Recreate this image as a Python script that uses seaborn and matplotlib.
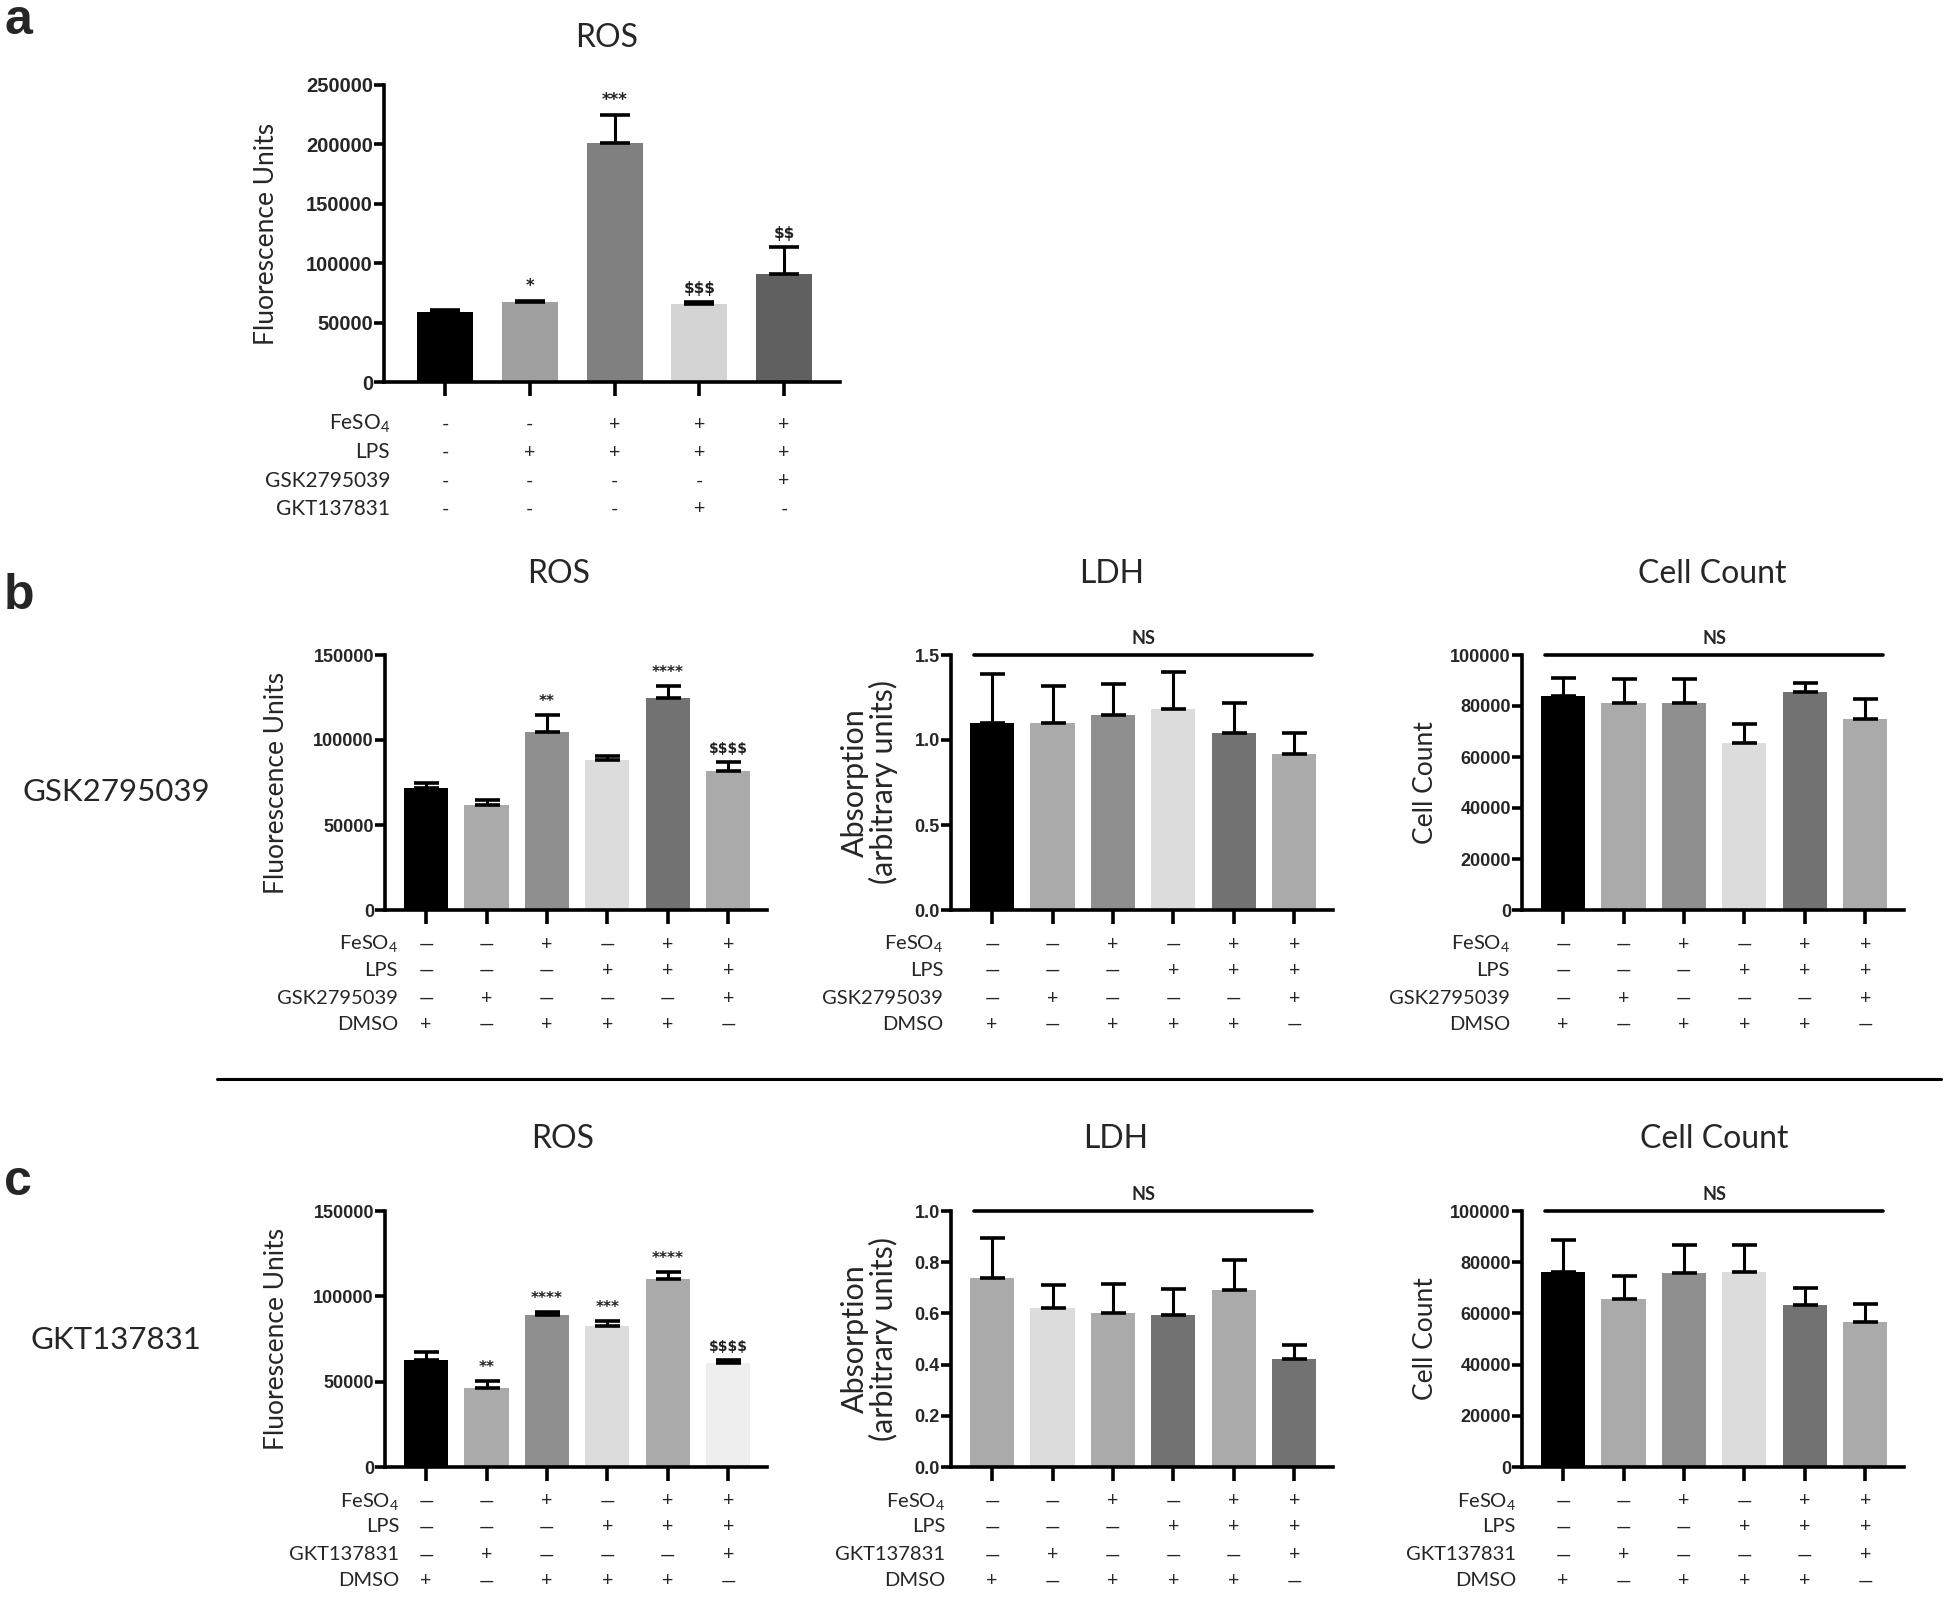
import numpy as np
import pandas as pd
import matplotlib
matplotlib.use("Agg")
import matplotlib.pyplot as plt
import matplotlib.transforms as mtrans
from matplotlib.lines import Line2D
import seaborn as sns

sns.set_theme(style="ticks")
plt.rcParams["font.family"] = ["Lato", "DejaVu Sans"]
plt.rcParams["mathtext.fontset"] = "custom"
plt.rcParams["mathtext.rm"] = "Lato"
plt.rcParams["mathtext.it"] = "Lato:italic"
plt.rcParams["mathtext.bf"] = "Lato:bold"

# ---------------- data ----------------
# panel a
a_groups = ["Ctrl", "LPS", "FeSO4+LPS", "FeSO4+LPS+GKT", "FeSO4+LPS+GSK"]
a_ros_mean = [59000, 67000, 201000, 65500, 90500]
a_ros_err = [2000, 1500, 24000, 2000, 23000]
a_ros_sig = ["", "*", "***", "$$$", "$$"]
a_ros_colors = ["#000000", "#a0a0a0", "#808080", "#d4d4d4", "#606060"]
a_rows = ["FeSO$_4$", "LPS", "GSK2795039", "GKT137831"]
a_table = [["-", "-", "+", "+", "+"],
           ["-", "+", "+", "+", "+"],
           ["-", "-", "-", "-", "+"],
           ["-", "-", "-", "+", "-"]]

# panels b / c conditions
bc_groups = ["DMSO", "Inh", "FeSO4", "LPS", "FeSO4+LPS", "FeSO4+LPS+Inh"]
b_rows = ["FeSO$_4$", "LPS", "GSK2795039", "DMSO"]
c_rows = ["FeSO$_4$", "LPS", "GKT137831", "DMSO"]
bc_table = [["—", "—", "+", "—", "+", "+"],
            ["—", "—", "—", "+", "+", "+"],
            ["—", "+", "—", "—", "—", "+"],
            ["+", "—", "+", "+", "+", "—"]]

# panel b
b_ros_mean = [72000, 61500, 104500, 88500, 124500, 81500]
b_ros_err = [2800, 3500, 10000, 2300, 7000, 5300]
b_ros_sig = ["", "", "**", "", "****", "$$$$"]
b_ros_colors = ["#000000", "#aaaaaa", "#8f8f8f", "#dcdcdc", "#727272", "#aaaaaa"]

b_ldh_mean = [1.10, 1.10, 1.15, 1.18, 1.04, 0.92]
b_ldh_err = [0.29, 0.22, 0.18, 0.22, 0.18, 0.12]
b_ldh_colors = ["#000000", "#aaaaaa", "#8f8f8f", "#dcdcdc", "#727272", "#aaaaaa"]

b_cc_mean = [84000, 81000, 81000, 65500, 85500, 74800]
b_cc_err = [7000, 9500, 9500, 7300, 3500, 7800]
b_cc_colors = ["#000000", "#aaaaaa", "#8f8f8f", "#dcdcdc", "#727272", "#aaaaaa"]

# panel c
c_ros_mean = [62800, 46200, 88800, 82500, 110000, 60800]
c_ros_err = [4500, 4000, 2000, 3000, 4500, 1700]
c_ros_sig = ["", "**", "****", "***", "****", "$$$$"]
c_ros_colors = ["#000000", "#aaaaaa", "#8f8f8f", "#dcdcdc", "#aaaaaa", "#eeeeee"]

c_ldh_mean = [0.74, 0.62, 0.60, 0.595, 0.69, 0.42]
c_ldh_err = [0.155, 0.09, 0.115, 0.10, 0.12, 0.055]
c_ldh_colors = ["#aaaaaa", "#dcdcdc", "#aaaaaa", "#727272", "#aaaaaa", "#727272"]

c_cc_mean = [76000, 65700, 75700, 76000, 63300, 56800]
c_cc_err = [12700, 9000, 11000, 10600, 6500, 6900]
c_cc_colors = ["#000000", "#aaaaaa", "#8f8f8f", "#dcdcdc", "#727272", "#aaaaaa"]

ros_ticks = [0, 50000, 100000, 150000]
ros_ticks_a = [0, 50000, 100000, 150000, 200000, 250000]
ldh_ticks_b = [0.0, 0.5, 1.0, 1.5]
ldh_ticks_c = [0.0, 0.2, 0.4, 0.6, 0.8, 1.0]
cc_ticks = [0, 20000, 40000, 60000, 80000, 100000]

# ---------------- figure ----------------
W, H = 1946, 1602
fig = plt.figure(figsize=(W / 100, H / 100), dpi=100)
fig.patch.set_facecolor("white")


def add_ax(l, t, r, b):
    return fig.add_axes([l / W, 1 - b / H, (r - l) / W, (b - t) / H])


TICKFONT = dict(family="Liberation Sans", weight="bold")


def bar_panel(ax, groups, means, errs, colors, width, xlim, ylim, yticks, ylabels,
              ylab, ylab_x, capsize, tick_fs=13, sig=None, ns=False, lw=2.6,
              ylab_fs=19, sig_fs=11):
    df = pd.DataFrame({"group": groups, "value": means})
    sns.barplot(data=df, x="group", y="value", hue="group", order=groups,
                hue_order=groups, palette=colors, width=width, saturation=1,
                errorbar=None, legend=False, ax=ax, edgecolor="none")
    n = len(groups)
    xs = np.arange(n)
    ax.errorbar(xs, means, yerr=[np.zeros(n), errs], fmt="none", ecolor="black",
                elinewidth=2.2, capsize=capsize, capthick=2.6, zorder=5)
    ax.set_xlim(*xlim)
    ax.set_ylim(*ylim)
    ax.set_yticks(yticks)
    ax.set_yticklabels(ylabels, fontsize=tick_fs, **TICKFONT)
    ax.set_xticks(xs)
    ax.set_xticklabels([])
    ax.set_xlabel("")
    ax.set_ylabel(ylab, fontsize=ylab_fs, linespacing=1.0)
    ax.yaxis.set_label_coords(ylab_x, 0.5)
    for s in ["top", "right"]:
        ax.spines[s].set_visible(False)
    for s in ["left", "bottom"]:
        ax.spines[s].set_linewidth(lw)
        ax.spines[s].set_color("black")
    ax.tick_params(axis="x", length=10, width=lw, direction="out", color="black")
    ax.tick_params(axis="y", length=7, width=lw, direction="out", color="black", pad=1)
    ax.set_facecolor("white")
    if sig is not None:
        for x, m, e, s in zip(xs, means, errs, sig):
            if s:
                dollars = s.startswith("$")
                txt = s.replace("$", r"\$")
                ax.annotate(txt, (x, m + e), xytext=(0, 6), textcoords="offset pixels",
                            ha="center", va="bottom",
                            fontsize=sig_fs if not dollars else sig_fs - 1,
                            family="DejaVu Sans", weight="bold", color="#222222")
    if ns:
        top = ylim[1]
        ax.plot([-0.3, n - 0.7], [top, top], color="black", lw=2.6, clip_on=False,
                solid_capstyle="round")
        ax.annotate("NS", (2.5, top), xytext=(0, 8), textcoords="offset pixels",
                    ha="center", va="bottom", fontsize=13, weight="bold")


def table(ax, rows, cells, bottom_px, offsets, label_right_px, fs=14.5, sym_fs=14):
    tr = mtrans.blended_transform_factory(ax.transData, fig.transFigure)
    for i, (name, row) in enumerate(zip(rows, cells)):
        y = 1 - (bottom_px + offsets[i]) / H
        fig.text(label_right_px / W, y, name, ha="right", va="center", fontsize=fs)
        for j, sym in enumerate(row):
            ax.text(j, y, sym, transform=tr, ha="center", va="center",
                    fontsize=sym_fs, clip_on=False)


def fmt(vals, dec=None):
    if dec is None:
        return [f"{int(v)}" for v in vals]
    return [f"{v:.{dec}f}" for v in vals]


TITLE_FS = 23

# ---- panel a ----
ax_a = add_ax(384, 85, 840, 382)
bar_panel(ax_a, a_groups, a_ros_mean, a_ros_err, a_ros_colors, 0.66, (-0.72, 4.66),
          (0, 250000), ros_ticks_a, fmt(ros_ticks_a), "Fluorescence Units", -0.23,
          capsize=10.5, tick_fs=14.5, sig=a_ros_sig, sig_fs=12)
table(ax_a, a_rows, a_table, 382, [42, 70, 99, 127], 390, fs=15, sym_fs=14)
fig.text(607 / W, 1 - 47 / H, "ROS", ha="center", va="baseline", fontsize=TITLE_FS)

# ---- panel b ----
xl6 = (-0.68, 5.64)
ax_b1 = add_ax(385, 655, 767, 910)
bar_panel(ax_b1, bc_groups, b_ros_mean, b_ros_err, b_ros_colors, 0.73, xl6,
          (0, 150000), ros_ticks, fmt(ros_ticks), "Fluorescence Units", -0.25,
          capsize=9, sig=b_ros_sig)
ax_b2 = add_ax(951, 655, 1333, 910)
bar_panel(ax_b2, bc_groups, b_ldh_mean, b_ldh_err, b_ldh_colors, 0.73, xl6,
          (0, 1.5), ldh_ticks_b, fmt(ldh_ticks_b, 1), "Absorption\n(arbitrary units)",
          -0.14, capsize=9, ns=True, ylab_fs=22)
ax_b3 = add_ax(1522, 655, 1904, 910)
bar_panel(ax_b3, bc_groups, b_cc_mean, b_cc_err, b_cc_colors, 0.73, xl6,
          (0, 100000), cc_ticks, fmt(cc_ticks), "Cell Count", -0.22,
          capsize=9, ns=True)
offs = [34, 60, 88, 114]
table(ax_b1, b_rows, bc_table, 910, offs, 398)
table(ax_b2, b_rows, bc_table, 910, offs, 943)
table(ax_b3, b_rows, bc_table, 910, offs, 1510)
fig.text(559 / W, 1 - 583 / H, "ROS", ha="center", va="baseline", fontsize=TITLE_FS)
fig.text(1112 / W, 1 - 583 / H, "LDH", ha="center", va="baseline", fontsize=TITLE_FS)
fig.text(1712 / W, 1 - 583 / H, "Cell Count", ha="center", va="baseline", fontsize=TITLE_FS)

# ---- panel c ----
ax_c1 = add_ax(385, 1211, 767, 1467)
bar_panel(ax_c1, bc_groups, c_ros_mean, c_ros_err, c_ros_colors, 0.73, xl6,
          (0, 150000), ros_ticks, fmt(ros_ticks), "Fluorescence Units", -0.25,
          capsize=9, sig=c_ros_sig)
ax_c2 = add_ax(951, 1211, 1333, 1467)
bar_panel(ax_c2, bc_groups, c_ldh_mean, c_ldh_err, c_ldh_colors, 0.73, xl6,
          (0, 1.0), ldh_ticks_c, fmt(ldh_ticks_c, 1), "Absorption\n(arbitrary units)",
          -0.14, capsize=9, ns=True, ylab_fs=22)
ax_c3 = add_ax(1522, 1211, 1904, 1467)
bar_panel(ax_c3, bc_groups, c_cc_mean, c_cc_err, c_cc_colors, 0.73, xl6,
          (0, 100000), cc_ticks, fmt(cc_ticks), "Cell Count", -0.22,
          capsize=9, ns=True)
table(ax_c1, c_rows, bc_table, 1467, offs, 399)
table(ax_c2, c_rows, bc_table, 1467, offs, 945)
table(ax_c3, c_rows, bc_table, 1467, offs, 1516)
fig.text(563 / W, 1 - 1148 / H, "ROS", ha="center", va="baseline", fontsize=TITLE_FS)
fig.text(1116 / W, 1 - 1148 / H, "LDH", ha="center", va="baseline", fontsize=TITLE_FS)
fig.text(1714 / W, 1 - 1148 / H, "Cell Count", ha="center", va="baseline", fontsize=TITLE_FS)

# ---- panel letters, side labels, separator ----
LET = dict(ha="left", va="baseline", fontsize=36, family="Liberation Sans", weight="bold")
fig.text(4 / W, 1 - 34 / H, "a", **LET)
fig.text(4 / W, 1 - 609 / H, "b", **LET)
fig.text(4 / W, 1 - 1195 / H, "c", **LET)
fig.text(23 / W, 1 - 792 / H, "GSK2795039", ha="left", va="center", fontsize=22.5)
fig.text(31 / W, 1 - 1340 / H, "GKT137831", ha="left", va="center", fontsize=22.5)
fig.add_artist(Line2D([217 / W, 1941 / W], [1 - 1079 / H, 1 - 1079 / H],
                      color="black", lw=2.2, transform=fig.transFigure))

fig.savefig("out.png", dpi=100, facecolor="white")
